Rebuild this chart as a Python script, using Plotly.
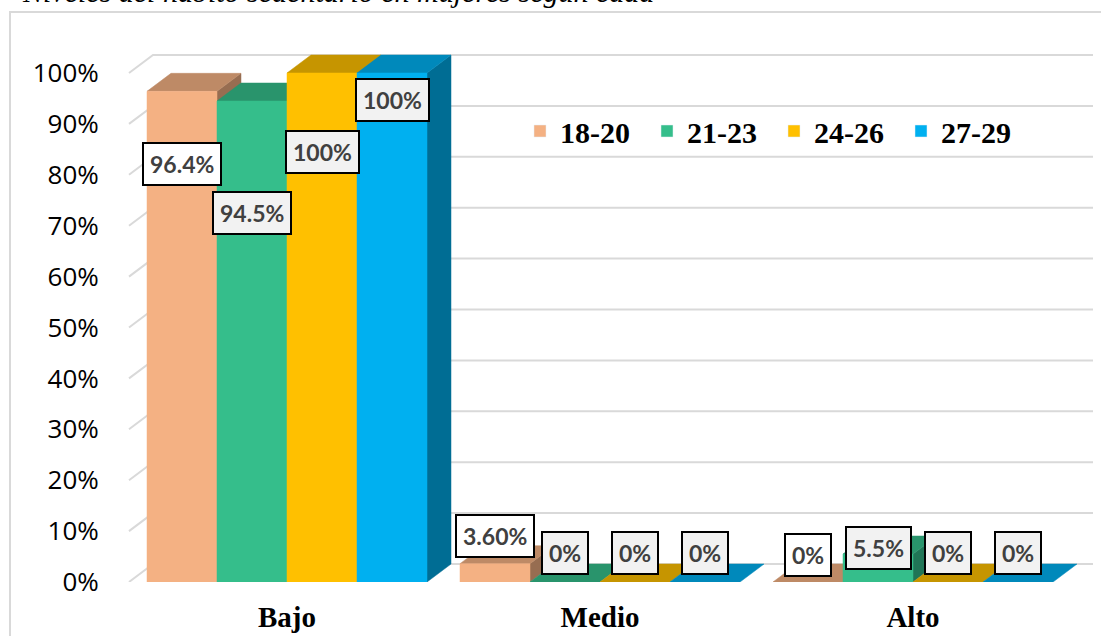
import plotly.graph_objects as go

categories = ["Bajo", "Medio", "Alto"]
age_groups = ["18-20", "21-23", "24-26", "27-29"]

pct_18_20 = [96.4, 3.6, 0.0]
pct_21_23 = [94.5, 0.0, 5.5]
pct_24_26 = [100.0, 0.0, 0.0]
pct_27_29 = [100.0, 0.0, 0.0]

lbl_18_20 = ["96.4%", "3.60%", "0%"]
lbl_21_23 = ["94.5%", "0%", "5.5%"]
lbl_24_26 = ["100%", "0%", "0%"]
lbl_27_29 = ["100%", "0%", "0%"]

y_ticks = [0, 10, 20, 30, 40, 50, 60, 70, 80, 90, 100]

series = [pct_18_20, pct_21_23, pct_24_26, pct_27_29]
labels = [lbl_18_20, lbl_21_23, lbl_24_26, lbl_27_29]
colors = ["#F4B183", "#35BE8B", "#FFC000", "#00B0F0"]
label_bg = ["#FFFFFF", "#F2F2F2", "#F2F2F2", "#F2F2F2"]

# where the data labels sit (percent on the front plane), like the excel original
label_y = [[82.1, 9.0, 5.3], [72.5, 5.7, 6.7], [84.5, 5.7, 5.7], [94.7, 5.7, 5.7]]

# ── geometry (pixels) ─────────────────────────────────────
W, H = 1101, 636
L, R, T, B = 124, 1096, 50, 582
CAT0, CAT_PX, PCT_PX = 287, 313, 5.09
BW = 70 / CAT_PX          # bar width in category units
DX = 24 / CAT_PX          # 3d depth, x
DY = 18 / PCT_PX          # 3d depth, y
WALL_L = (129 - CAT0) / CAT_PX
WALL_R = (1093 - CAT0) / CAT_PX


def paper_x(px):
    return (px - L) / (R - L)


def paper_y(py):
    return (B - py) / (B - T)


def shade(hex_color, f):
    r, g, b = (int(hex_color[i:i + 2], 16) for i in (1, 3, 5))
    return "rgb({},{},{})".format(int(r * f), int(g * f), int(b * f))


fig = go.Figure()

# back wall gridlines with the little diagonal on the side wall
gx, gy = [], []
for v in y_ticks:
    gx += [WALL_L, WALL_L + DX, WALL_R, None]
    gy += [v, v + DY, v + DY, None]
fig.add_trace(go.Scatter(x=gx, y=gy, mode="lines", line=dict(color="#D9D9D9", width=2),
                         hoverinfo="skip", showlegend=False))


def face(xs, ys, color):
    fig.add_trace(go.Scatter(x=xs, y=ys, mode="lines", fill="toself", fillcolor=color,
                             line=dict(color=color, width=0.5), hoverinfo="skip",
                             showlegend=False))


for ci in range(len(categories)):
    for si, vals in enumerate(series):
        v = vals[ci]
        x0 = ci + (si - 2) * BW
        x1 = x0 + BW
        if v > 0:
            face([x1, x1, x1 + DX, x1 + DX, x1], [0, v, v + DY, DY, 0], shade(colors[si], 0.62))
        face([x0, x1, x1 + DX, x0 + DX, x0], [v, v, v + DY, v + DY, v], shade(colors[si], 0.78))
        if v > 0:
            face([x0, x1, x1, x0, x0], [0, 0, v, v, 0], colors[si])

# legend entries only
for si, name in enumerate(age_groups):
    fig.add_trace(go.Bar(x=[None], y=[None], name=name, marker_color=colors[si]))

annotations = []
for ci in range(len(categories)):
    for si in range(len(series)):
        annotations.append(dict(
            x=ci + (si - 1.5) * BW, y=label_y[si][ci], xref="x", yref="y",
            text=labels[si][ci], showarrow=False,
            font=dict(family="Lato", size=23, color="#404040", weight="bold"),
            bgcolor=label_bg[si], bordercolor="#000000", borderwidth=2, borderpad=6,
        ))

# caption cut off at the top of the image
annotations.append(dict(
    x=paper_x(20), y=paper_y(-8), xref="paper", yref="paper", xanchor="left", yanchor="middle",
    text="<i>Niveles del hábito sedentario en mujeres según edad</i>", showarrow=False,
    font=dict(family="Liberation Serif", size=30, color="#000000"),
))

fig.update_layout(
    width=W, height=H, autosize=False,
    margin=dict(l=L, r=W - R, t=T, b=H - B, autoexpand=False),
    paper_bgcolor="white", plot_bgcolor="white",
    annotations=annotations,
    shapes=[dict(type="rect", xref="paper", yref="paper",
                 x0=paper_x(10), x1=paper_x(1110), y0=paper_y(650), y1=paper_y(12),
                 line=dict(color="#D9D9D9", width=2), layer="below")],
    legend=dict(orientation="h", x=paper_x(520), y=paper_y(131), xanchor="left", yanchor="middle",
                bgcolor="rgba(0,0,0,0)", entrywidth=82, entrywidthmode="pixels",
                font=dict(family="Liberation Serif", size=30, color="#000000", weight="bold")),
    xaxis=dict(range=[(L - CAT0) / CAT_PX, (R - CAT0) / CAT_PX], automargin=False,
               tickvals=list(range(len(categories))), ticktext=categories,
               showgrid=False, zeroline=False, showline=False,
               ticks="outside", ticklen=9, tickcolor="rgba(0,0,0,0)",
               tickfont=dict(family="Liberation Serif", size=29, color="#000000", weight="bold")),
    yaxis=dict(range=[0, (B - T) / PCT_PX], automargin=False,
               tickvals=y_ticks, ticktext=[f"{v}%" for v in y_ticks],
               showgrid=False, zeroline=False, showline=False,
               ticks="outside", ticklen=19, tickcolor="rgba(0,0,0,0)",
               tickfont=dict(family="Open Sans", size=26, color="#000000")),
)

# page body has a default 8px margin; drop it so the figure sits at 0,0
fig.write_html("out.html", config={"displayModeBar": False},
               post_script="document.body.style.margin='0';")
